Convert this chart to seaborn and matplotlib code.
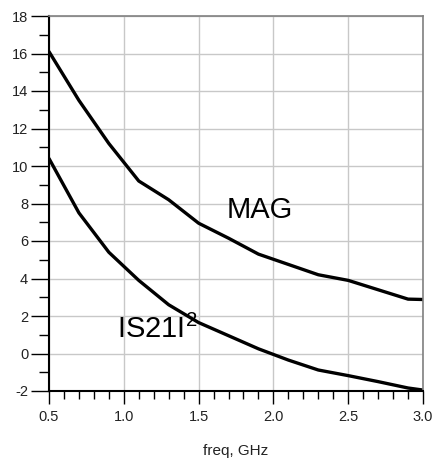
import matplotlib
matplotlib.use("Agg")
import matplotlib.pyplot as plt
import seaborn as sns
import pandas as pd
from matplotlib.ticker import MultipleLocator

# values
freq = [0.5, 0.7, 0.9, 1.1, 1.3, 1.5, 1.7, 1.9, 2.1, 2.3, 2.5, 2.7, 2.9, 3.0]
mag = [16.1, 13.5, 11.2, 9.2, 8.2, 6.95, 6.15, 5.3, 4.75, 4.2, 3.9, 3.4, 2.9, 2.88]
s21 = [10.4, 7.5, 5.4, 3.9, 2.6, 1.65, 0.95, 0.25, -0.35, -0.88, -1.18, -1.5, -1.84, -1.95]

df = pd.DataFrame({
    "freq": freq * 2,
    "value": mag + s21,
    "trace": ["MAG"] * len(freq) + ["S21"] * len(freq),
})

sns.set_style("white")
plt.rcParams["font.family"] = ["Liberation Sans", "DejaVu Sans"]
plt.rcParams["mathtext.fontset"] = "custom"
plt.rcParams["mathtext.rm"] = "Liberation Sans"
plt.rcParams["mathtext.it"] = "Liberation Sans"

fig = plt.figure(figsize=(4.38, 4.59), dpi=100)
ax = fig.add_axes([49 / 438, 1 - 391 / 459, 374 / 438, 375 / 459])

sns.lineplot(data=df, x="freq", y="value", hue="trace", palette=["black", "black"],
             linewidth=2.4, legend=False, ax=ax)

ax.set_xlim(0.5, 3.0)
ax.set_ylim(-2, 18)
ax.xaxis.set_major_locator(MultipleLocator(0.5))
ax.xaxis.set_minor_locator(MultipleLocator(0.1))
ax.yaxis.set_major_locator(MultipleLocator(2))
ax.yaxis.set_minor_locator(MultipleLocator(1))
ax.set_xticklabels([f"{t:.1f}" for t in ax.get_xticks()])
ax.set_yticklabels([f"{t:g}" for t in ax.get_yticks()])
ax.grid(True, which="major", color="#c8c8c8", linewidth=1)
ax.tick_params(which="both", bottom=True, left=True, direction="out",
               color="black", width=1)
ax.tick_params(which="major", length=9, labelsize=10.5, pad=5, labelcolor="#222222")
ax.tick_params(axis="y", which="major", length=13, pad=2)
ax.tick_params(which="minor", length=6)
ax.tick_params(axis="y", which="minor", length=7)

for side in ["left", "bottom"]:
    ax.spines[side].set_color("black")
    ax.spines[side].set_linewidth(1.5)
for side in ["top", "right"]:
    ax.spines[side].set_color("#808080")
    ax.spines[side].set_linewidth(1.2)

ax.set_xlabel("freq, GHz", fontsize=11, labelpad=14, color="#222222")
ax.set_ylabel("")

ax.text(1.69, 7.23, "MAG", fontsize=21, ha="left", va="baseline", color="black")
ax.text(0.953, 0.83, "IS21I$^{2}$", fontsize=21, ha="left", va="baseline", color="black")

plt.savefig("out.png", dpi=100)
